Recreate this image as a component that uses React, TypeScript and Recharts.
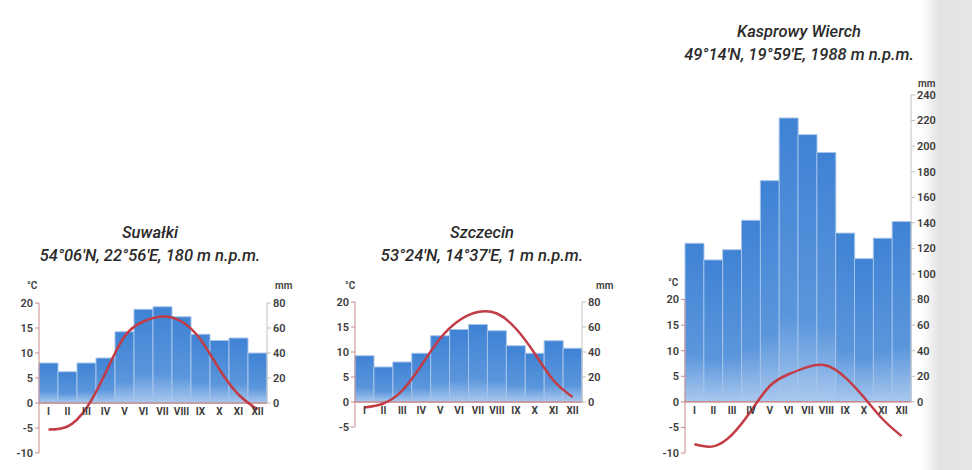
import { ComposedChart, Bar, Line, XAxis, YAxis, ReferenceLine, LabelList } from "recharts";

const months = ["I", "II", "III", "IV", "V", "VI", "VII", "VIII", "IX", "X", "XI", "XII"];

// opady (mm) i temperatura (°C)
const suwalkiPrecip = [32, 25, 32, 36, 57, 75, 77, 69, 55, 50, 52, 40];
const suwalkiTemp = [-5.3, -4.7, -1, 6, 13.3, 16.3, 17.3, 16.3, 12.7, 6.7, 1.7, -1.3];

const szczecinPrecip = [37, 28, 32, 39, 53, 58, 62, 57, 45, 39, 49, 43];
const szczecinTemp = [-1.1, -0.3, 2.3, 7.3, 12.7, 16.3, 18, 17.7, 14.7, 9.7, 4.3, 1];

const kasprowyPrecip = [124, 111, 119, 142, 173, 222, 209, 195, 132, 112, 128, 141];
const kasprowyTemp = [-8.3, -8.7, -6.4, -1.8, 3.1, 5.4, 6.8, 7.1, 4.8, 0.9, -3.4, -6.7];

const FONT = "Roboto, 'Noto Sans', sans-serif";
const AXIS_RED = "#c98a8a";

type ChartProps = {
  id: string;
  precip: number[];
  temp: number[];
  left: number;
  top: number;
  width: number;
  height: number;
  margin: { top: number; right: number; left: number; bottom: number };
  tDomain: [number, number];
  tTicks: number[];
  tDash?: string; // which part of the axis line to show
  pDomain: [number, number];
  pTicks: number[];
  pDash?: string;
};

function ClimateChart(p: ChartProps) {
  const data = months.map((m, i) => ({ month: m, precip: p.precip[i], temp: p.temp[i] }));
  const tick = { fontSize: 11, fill: "#3c3c3c", fontFamily: FONT, fontWeight: 600 };
  return (
    <div style={{ position: "absolute", left: p.left, top: p.top }}>
      <ComposedChart width={p.width} height={p.height} data={data} margin={p.margin} barCategoryGap={0}>
        <defs>
          <linearGradient id={`g-${p.id}`} x1="0" y1="0" x2="0" y2="1">
            <stop offset="0%" stopColor="#3f82d4" />
            <stop offset="70%" stopColor="#5b96dc" />
            <stop offset="100%" stopColor="#a9c8ee" />
          </linearGradient>
        </defs>
        <XAxis dataKey="month" hide />
        <YAxis
          yAxisId="t"
          orientation="left"
          width={30}
          domain={p.tDomain}
          ticks={p.tTicks}
          allowDataOverflow
          interval={0}
          tick={tick}
          tickSize={4}
          stroke={AXIS_RED}
          axisLine={{ stroke: AXIS_RED, strokeDasharray: p.tDash }}
        />
        <YAxis
          yAxisId="p"
          orientation="right"
          width={35}
          domain={p.pDomain}
          ticks={p.pTicks}
          interval={0}
          tick={tick}
          tickSize={4}
          stroke="#bdbdbd"
          axisLine={{ stroke: "#c4c4c4", strokeDasharray: p.pDash }}
        />
        <Bar
          yAxisId="p"
          dataKey="precip"
          fill={`url(#g-${p.id})`}
          stroke="#a6c4ea"
          strokeWidth={1}
          isAnimationActive={false}
        >
          <LabelList
            dataKey="month"
            position="bottom"
            offset={5}
            style={{ fontSize: 10, fill: "#3c3c3c", fontFamily: FONT, fontWeight: 700 }}
          />
        </Bar>
        <ReferenceLine yAxisId="t" y={0} stroke={AXIS_RED} strokeWidth={1.5} />
        <Line
          yAxisId="t"
          dataKey="temp"
          type="natural"
          stroke="#c23b45"
          strokeWidth={2.5}
          dot={false}
          isAnimationActive={false}
        />
      </ComposedChart>
    </div>
  );
}

function Title({ x, y, name, coords }: { x: number; y: number; name: string; coords: string }) {
  return (
    <div
      style={{
        position: "absolute",
        left: x,
        top: y,
        transform: "translateX(-50%)",
        textAlign: "center",
        fontFamily: FONT,
        fontStyle: "italic",
        fontWeight: 500,
        fontSize: 16.5,
        lineHeight: "23px",
        color: "#2a2a2a",
        whiteSpace: "nowrap",
      }}
    >
      <div>{name}</div>
      <div>{coords}</div>
    </div>
  );
}

function Unit({ x, y, text }: { x: number; y: number; text: string }) {
  return (
    <div
      style={{
        position: "absolute",
        left: x,
        top: y,
        fontFamily: FONT,
        fontSize: 10,
        fontWeight: 600,
        color: "#3c3c3c",
      }}
    >
      {text}
    </div>
  );
}

export default function App() {
  return (
    <div
      style={{
        position: "absolute",
        left: 0,
        top: 0,
        width: 972,
        height: 470,
        background: "#ffffff",
        overflow: "hidden",
      }}
    >
      <div
        style={{
          position: "absolute",
          left: 922,
          top: 0,
          width: 50,
          height: 470,
          background: "linear-gradient(to right, rgba(225,225,225,0), #e2e2e2 35%, #e6e6e6)",
        }}
      />
      <Title x={150} y={221} name="Suwałki" coords="54°06'N, 22°56'E, 180 m n.p.m." />
      <Title x={482} y={221} name="Szczecin" coords="53°24'N, 14°37'E, 1 m n.p.m." />
      <Title x={799} y={20} name="Kasprowy Wierch" coords="49°14'N, 19°59'E, 1988 m n.p.m." />

      <Unit x={27} y={280} text="°C" />
      <Unit x={275} y={280} text="mm" />
      <Unit x={345} y={280} text="°C" />
      <Unit x={596} y={280} text="mm" />
      <Unit x={668} y={277} text="°C" />
      <Unit x={918} y={78} text="mm" />

      <ClimateChart
        id="suw"
        precip={suwalkiPrecip}
        temp={suwalkiTemp}
        left={0}
        top={280}
        width={310}
        height={185}
        margin={{ top: 23, right: 8, left: 9, bottom: 12 }}
        tDomain={[-10, 20]}
        tTicks={[-10, -5, 0, 5, 10, 15, 20]}
        pDomain={[-40, 80]}
        pTicks={[0, 20, 40, 60, 80]}
        pDash="100 100"
      />
      <ClimateChart
        id="szc"
        precip={szczecinPrecip}
        temp={szczecinTemp}
        left={320}
        top={280}
        width={300}
        height={159}
        margin={{ top: 22, right: 3, left: 5, bottom: 12 }}
        tDomain={[-5, 20]}
        tTicks={[-5, 0, 5, 10, 15, 20]}
        pDomain={[-20, 80]}
        pTicks={[0, 20, 40, 60, 80]}
        pDash="100 100"
      />
      <ClimateChart
        id="kas"
        precip={kasprowyPrecip}
        temp={kasprowyTemp}
        left={650}
        top={75}
        width={310}
        height={390}
        margin={{ top: 20, right: 14, left: 5, bottom: 12 }}
        tDomain={[-10, 60]}
        tTicks={[-10, -5, 0, 5, 10, 15, 20]}
        tDash="0 204.6 400"
        pDomain={[-40, 240]}
        pTicks={[0, 20, 40, 60, 80, 100, 120, 140, 160, 180, 200, 220, 240]}
        pDash="307 200"
      />
    </div>
  );
}
